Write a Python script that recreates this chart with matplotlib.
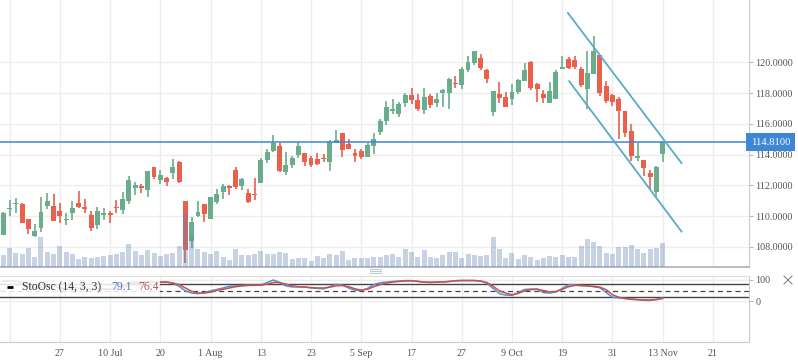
import numpy as np
import matplotlib
matplotlib.use("Agg")
import matplotlib.pyplot as plt
from matplotlib.lines import Line2D
from matplotlib.patches import Rectangle
import matplotlib.transforms as mtransforms

plt.rcParams['font.family'] = ['Liberation Serif', 'DejaVu Serif']

# ---------------- data ----------------
opens = [108.81, 110.47, 110.82, 110.80, 109.82, 108.74, 109.22, 110.67, 110.67, 110.34,
         109.74, 110.21, 110.86, 110.54, 110.08, 109.46, 110.11, 110.21, 110.58, 110.43,
         111.02, 111.86, 111.97, 111.73, 113.20, 112.36, 112.49, 112.84, 113.53, 111.00,
         108.42, 110.02, 110.80, 109.85, 110.93, 111.60, 111.97, 113.01, 111.99, 111.51,
         111.43, 112.19, 113.66, 114.24, 114.57, 112.90, 113.33, 113.98, 114.11, 113.79,
         113.72, 113.79, 113.55, 114.79, 115.41, 114.70, 114.11, 114.24, 113.85, 114.57,
         115.50, 116.22, 116.87, 116.67, 117.39, 117.88, 117.56, 116.93, 117.82, 117.39,
         118.04, 118.04, 118.69, 118.56, 119.51, 119.96, 120.29, 119.51, 116.80, 117.95,
         117.75, 117.65, 118.10, 118.82, 120.03, 118.60, 117.95, 117.39, 117.65, 119.60,
         120.22, 120.16, 119.57, 118.30, 119.27, 120.48, 118.47, 117.88, 117.62, 116.84,
         115.54, 113.81, 113.68, 112.84, 111.60, 114.07]
highs = [110.28, 111.06, 111.19, 110.86, 109.82, 109.50, 111.23, 111.51, 111.45, 110.86,
         110.21, 111.00, 111.67, 111.12, 110.34, 110.60, 110.54, 110.34, 111.06, 111.58,
         112.62, 112.25, 112.08, 112.97, 113.20, 113.01, 112.55, 113.72, 113.59, 111.00,
         109.93, 111.00, 110.80, 111.25, 111.77, 112.10, 112.03, 113.20, 112.49, 111.77,
         112.49, 113.79, 114.37, 115.28, 114.76, 114.18, 113.92, 114.83, 114.11, 113.92,
         114.11, 114.05, 114.96, 115.61, 115.41, 115.02, 114.37, 114.37, 114.76, 115.41,
         116.32, 117.49, 117.62, 117.43, 117.99, 118.34, 117.95, 118.34, 117.95, 118.01,
         118.27, 118.99, 119.12, 119.73, 120.42, 120.74, 120.55, 119.60, 118.14, 118.73,
         118.08, 118.60, 118.92, 119.96, 120.09, 118.69, 118.21, 118.73, 119.51, 120.42,
         120.35, 120.42, 119.70, 120.75, 121.72, 120.48, 118.80, 117.95, 117.75, 116.84,
         116.00, 114.76, 113.68, 113.01, 113.29, 114.85]
lows = [108.81, 110.04, 110.21, 109.56, 108.87, 108.68, 108.96, 110.50, 109.72, 109.59,
        109.46, 109.78, 110.56, 110.24, 109.07, 109.20, 109.78, 109.59, 110.21, 110.17,
        110.82, 111.41, 111.54, 111.28, 112.45, 112.12, 111.99, 112.45, 112.16, 106.96,
        107.96, 109.98, 109.65, 109.85, 110.80, 111.15, 111.41, 111.80, 111.73, 110.89,
        111.06, 112.14, 113.46, 114.18, 112.88, 112.71, 113.14, 113.79, 113.29, 113.20,
        113.33, 113.53, 112.97, 114.76, 113.88, 114.37, 113.53, 113.72, 113.85, 114.05,
        115.30, 115.96, 116.67, 116.48, 117.13, 117.32, 116.87, 116.67, 117.06, 117.13,
        117.13, 117.00, 118.36, 118.30, 119.38, 119.86, 119.51, 118.69, 116.54, 117.36,
        117.13, 117.26, 117.97, 118.82, 118.23, 117.45, 117.39, 117.39, 117.65, 119.55,
        119.60, 119.60, 118.43, 116.99, 119.27, 117.84, 117.39, 117.19, 115.05, 115.18,
        113.62, 113.62, 112.64, 111.71, 111.27, 113.55]
closes = [110.19, 110.56, 110.89, 109.59, 109.20, 109.02, 110.28, 111.00, 109.72, 110.04,
          109.78, 110.54, 110.60, 110.50, 109.26, 110.34, 110.21, 110.11, 110.54, 111.12,
          112.36, 112.03, 111.84, 112.94, 112.58, 112.66, 112.25, 113.20, 112.23, 107.82,
          109.63, 110.28, 110.17, 111.25, 111.45, 111.97, 111.86, 111.93, 112.42, 110.93,
          111.38, 113.66, 114.18, 114.79, 112.97, 113.33, 113.79, 114.57, 113.55, 113.33,
          113.40, 113.72, 114.83, 114.96, 114.33, 114.37, 113.92, 113.85, 114.63, 115.02,
          116.19, 117.10, 116.97, 117.32, 117.88, 117.58, 116.97, 117.75, 117.26, 117.62,
          118.21, 118.92, 118.62, 119.57, 120.03, 120.74, 119.66, 118.92, 118.14, 117.69,
          117.13, 118.08, 118.86, 119.51, 118.34, 118.27, 117.71, 118.14, 119.38, 119.70,
          119.66, 119.73, 118.56, 119.31, 120.75, 118.04, 117.52, 117.45, 116.87, 115.44,
          113.94, 113.94, 113.16, 112.58, 113.23, 114.81]
volumes = [12.3, 19.3, 14.3, 13.3, 19.3, 10.3, 30.3, 15.3, 13.3, 21.3,
           15.3, 13.3, 8.3, 10.3, 9.3, 10.3, 11.3, 12.3, 13.3, 15.3,
           23.3, 16.3, 12.3, 17.3, 14.3, 11.3, 13.3, 14.3, 21.3, 53.3,
           30.5, 18.3, 15.3, 13.3, 16.3, 10.3, 7.3, 18.3, 12.3, 12.3,
           13.3, 16.3, 13.3, 13.3, 15.3, 14.3, 8.3, 9.3, 9.3, 6.3,
           11.3, 9.3, 13.3, 12.3, 16.3, 7.3, 9.3, 9.3, 9.3, 10.3,
           10.3, 12.3, 13.3, 10.3, 18.3, 15.3, 10.3, 17.3, 10.3, 9.3,
           12.3, 15.3, 15.3, 9.3, 13.3, 12.3, 11.3, 12.3, 30.3, 18.3,
           9.3, 14.3, 8.3, 12.3, 10.3, 7.3, 9.3, 11.3, 10.3, 12.3,
           10.3, 10.3, 21.3, 28.3, 25.3, 21.3, 14.3, 13.3, 20.3, 20.3,
           22.3, 18.3, 14.3, 18.3, 19.3, 24.3]
stoch_k = [95, 96, 95, 85, 70, 55, 65, 75, 70, 60,
           55, 60, 62, 65, 50, 55, 58, 58, 62, 72,
           88, 90, 88, 92, 90, 90, 90, 85, 70, 48,
           38, 35, 40, 48, 55, 62, 70, 72, 74, 75,
           75, 76, 88, 100, 88, 72, 67, 67, 67, 62,
           60, 58, 68, 80, 75, 62, 52, 50, 60, 78,
           87, 90, 93, 95, 97, 97, 93, 90, 90, 90,
           90, 93, 97, 98, 98, 98, 95, 85, 60, 35,
           28, 27, 40, 55, 57, 57, 40, 38, 43, 60,
           77, 77, 73, 72, 68, 63, 40, 18, 15, 12,
           10, 7, 3, 3, 7, 15]
stoch_d = [93, 95, 95, 90, 80, 65, 62, 68, 70, 65,
           58, 58, 60, 62, 58, 55, 56, 57, 60, 65,
           78, 85, 88, 90, 90, 90, 90, 86, 78, 62,
           46, 38, 38, 42, 50, 56, 62, 68, 72, 74,
           75, 75, 80, 88, 88, 80, 72, 68, 66, 64,
           62, 62, 66, 72, 74, 68, 58, 52, 56, 68,
           78, 85, 90, 93, 95, 96, 94, 90, 88, 90,
           91, 93, 96, 97, 97, 97, 95, 88, 70, 48,
           38, 30, 36, 48, 54, 56, 50, 43, 45, 55,
           68, 74, 74, 72, 70, 66, 54, 30, 18, 12,
           8, 6, 5, 5, 7, 12]
last_price = 114.81
channel_upper_x = [89.9, 108.0]
channel_upper_y = [123.22, 113.45]
channel_lower_x = [90.1, 108.0]
channel_lower_y = [118.78, 109.00]
tick_positions = [1, 9, 17, 25, 33, 41, 49, 57, 65, 73, 81, 89, 97, 105, 113]
tick_labels = ['', '27', '10 Jul', '20', '1 Aug', '13', '23', '5 Sep', '17', '27',
               '9 Oct', '19', '31', '13 Nov', '21']
price_ticks = [108, 110, 112, 114, 116, 118, 120]
osc_ticks = [0, 100]
osc_levels = [20, 50, 80]

# ---------------- figure ----------------
W, H = 798, 363
fig = plt.figure(figsize=(W / 100, H / 100), dpi=100)

def rect(x0, y0, x1, y1):
    return [x0 / W, 1 - y1 / H, (x1 - x0) / W, (y1 - y0) / H]

main_rect = rect(0, 0, 749, 267.3)
sub_rect = rect(0, 276, 749, 342)

ax = fig.add_axes(main_rect)
axv = fig.add_axes(main_rect, sharex=ax)
axs = fig.add_axes(sub_rect, sharex=ax)

idx = np.arange(len(closes))
o = np.array(opens); h = np.array(highs); l = np.array(lows); c = np.array(closes)
up = c >= o
green, red = '#6AAD8C', '#E9604D'
cols = np.where(up, green, red)

xmin, xmax = -0.525, 118.74
ax.set_xlim(xmin, xmax)
ax.set_ylim(106.68, 124.06)

grid_c = '#EDEDED'
ax.set_xticks(tick_positions)
ax.set_yticks(price_ticks)
ax.set_yticklabels([f"{v:.4f}" for v in price_ticks])
ax.yaxis.tick_right()
ax.tick_params(axis='y', length=3, width=0.8, color='#BBBBBB', pad=1.5,
               labelsize=7.3, labelcolor='#555555')
ax.tick_params(axis='x', length=0, labelbottom=False)
ax.grid(True, color=grid_c, lw=1)
ax.set_axisbelow(True)
for s in ['left', 'top']:
    ax.spines[s].set_visible(False)
ax.spines['right'].set_color('#CCCCCC')
ax.spines['bottom'].set_color('#A9AFB6')
ax.spines['bottom'].set_linewidth(1.2)

# candles
ax.vlines(idx, l, h, colors=cols, lw=1.2, zorder=2)
body_bottom = np.minimum(o, c)
body_h = np.maximum(np.abs(c - o), 0.07)
ax.bar(idx, body_h, bottom=body_bottom, width=0.78, color=cols, lw=0, zorder=3)

# last price line & channel
ax.axhline(last_price, color='#3A87D6', lw=1.1, zorder=4)
ax.plot(channel_upper_x, channel_upper_y, color='#5AAAC8', lw=1.3, zorder=4)
ax.plot(channel_lower_x, channel_lower_y, color='#5AAAC8', lw=1.3, zorder=4)

trans = mtransforms.blended_transform_factory(ax.transAxes, ax.transData)
ax.text(1.0025, last_price, f"{last_price:.4f}", transform=trans, va='center', ha='left',
        color='white', fontsize=7.6, zorder=10, clip_on=False,
        bbox=dict(boxstyle='square,pad=0.42', fc='#3D87D6', ec='none'))

# volume overlay
axv.set_ylim(0, 267.3)
axv.patch.set_visible(False)
axv.axis('off')
axv.bar(idx, volumes, width=0.8, color='#5F82B5', alpha=0.35, lw=0)

# ---------------- oscillator ----------------
axs.set_ylim(-195, 119)
axs.set_yticks(osc_ticks)
axs.yaxis.tick_right()
axs.tick_params(axis='y', length=3, width=0.8, color='#BBBBBB', pad=1.5,
                labelsize=7.3, labelcolor='#555555')
axs.set_xticks(tick_positions)
axs.set_xticklabels(tick_labels)
axs.tick_params(axis='x', length=0, pad=5, labelsize=7.2, labelcolor='#555555')
axs.grid(True, color=grid_c, lw=1)
axs.set_axisbelow(True)
axs.spines['left'].set_visible(False)
axs.spines['top'].set_color('#DDDDDD')
axs.spines['right'].set_color('#CCCCCC')
axs.spines['bottom'].set_color('#CCCCCC')

for lev in osc_levels:
    if lev == 50:
        axs.axhline(lev, color='#444444', lw=0.9, ls=(0, (4, 3)))
    else:
        axs.axhline(lev, color='#444444', lw=1.0)
axs.plot(idx, stoch_k, color='#5A8ED0', lw=1.1, zorder=3)
axs.plot(idx, stoch_d, color='#C8514E', lw=1.1, zorder=3)

axs.add_patch(Rectangle((0, 0.742), 160 / 749, 0.243, transform=axs.transAxes,
                        fc='white', ec='none', alpha=0.85, zorder=5))
ly = 0.833
axs.plot([7 / 749, 13 / 749], [ly, ly], transform=axs.transAxes, color='black', lw=2,
         zorder=6, solid_capstyle='butt')
axs.text(22.5 / 749, ly, "StoOsc (14, 3, 3)", transform=axs.transAxes, va='center',
         ha='left', fontsize=8.4, color='#333333', zorder=6)
axs.text(111.5 / 749, ly, "79.1", transform=axs.transAxes, va='center', ha='left',
         fontsize=8.4, color='#4A7EC0', zorder=6)
axs.text(138 / 749, ly, "76.4", transform=axs.transAxes, va='center', ha='left',
         fontsize=8.4, color='#B85450', zorder=6)

# drag handle and close icon
for yy in [269, 271, 273]:
    fig.add_artist(Line2D([370 / W, 381 / W], [1 - yy / H, 1 - yy / H], color='#C0C8D2', lw=0.8))
fig.add_artist(Line2D([784 / W, 792 / W], [1 - 276 / H, 1 - 284 / H], color='#888888', lw=0.8))
fig.add_artist(Line2D([784 / W, 792 / W], [1 - 284 / H, 1 - 276 / H], color='#888888', lw=0.8))

fig.savefig("out.png", dpi=100)
